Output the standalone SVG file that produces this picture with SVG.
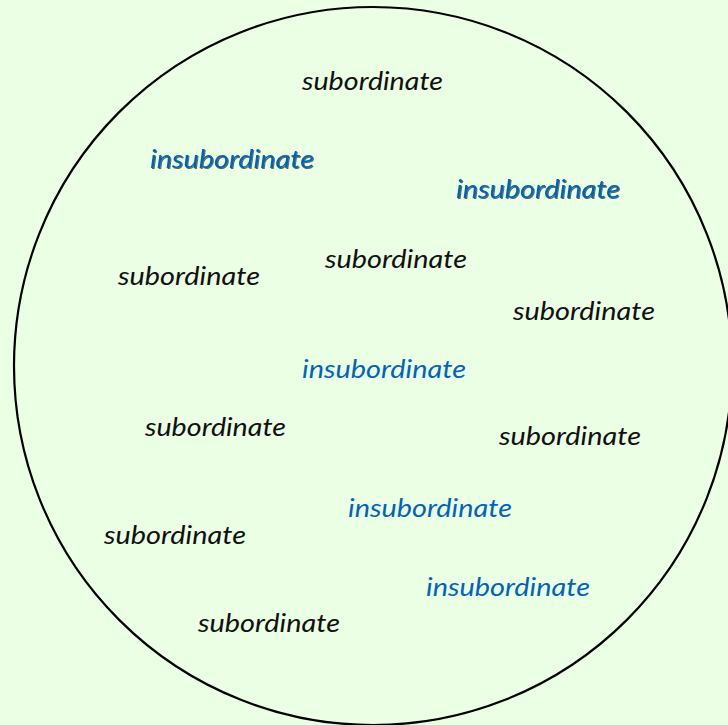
<svg xmlns="http://www.w3.org/2000/svg" width="728" height="725" viewBox="0 0 728 725">
<defs>
<filter id="sh" x="-10%" y="-30%" width="120%" height="160%">
<feDropShadow dx="1" dy="1" stdDeviation="0.5" flood-color="#000" flood-opacity="0.6"/>
</filter>
<style>
text{font-family:"Lato","Open Sans","Liberation Sans",sans-serif;font-style:italic;font-size:25px}
.s{fill:#111}
.i{fill:#0563b4}
.sh{filter:url(#sh)}
</style>
</defs>
<rect width="728" height="725" fill="#ebffe4"/>
<g id="circle"><circle cx="373" cy="366" r="359" fill="none" stroke="#000" stroke-width="2.2"/></g>
<g id="connectors"></g>
<g id="labels">
<text class="s" x="302" y="90" textLength="141" lengthAdjust="spacingAndGlyphs">subordinate</text>
<text class="i sh" x="150" y="168" textLength="164" lengthAdjust="spacingAndGlyphs">insubordinate</text>
<text class="i sh" x="456" y="198" textLength="164" lengthAdjust="spacingAndGlyphs">insubordinate</text>
<text class="s" x="325" y="268" textLength="142" lengthAdjust="spacingAndGlyphs">subordinate</text>
<text class="s" x="118" y="285" textLength="142" lengthAdjust="spacingAndGlyphs">subordinate</text>
<text class="s" x="513" y="320" textLength="142" lengthAdjust="spacingAndGlyphs">subordinate</text>
<text class="i" x="302" y="378" textLength="164" lengthAdjust="spacingAndGlyphs">insubordinate</text>
<text class="s" x="145" y="436" textLength="141" lengthAdjust="spacingAndGlyphs">subordinate</text>
<text class="s" x="499" y="445" textLength="142" lengthAdjust="spacingAndGlyphs">subordinate</text>
<text class="i" x="348" y="517" textLength="164" lengthAdjust="spacingAndGlyphs">insubordinate</text>
<text class="s" x="104" y="544" textLength="142" lengthAdjust="spacingAndGlyphs">subordinate</text>
<text class="i" x="426" y="596" textLength="164" lengthAdjust="spacingAndGlyphs">insubordinate</text>
<text class="s" x="198" y="632" textLength="142" lengthAdjust="spacingAndGlyphs">subordinate</text>
</g>
</svg>
